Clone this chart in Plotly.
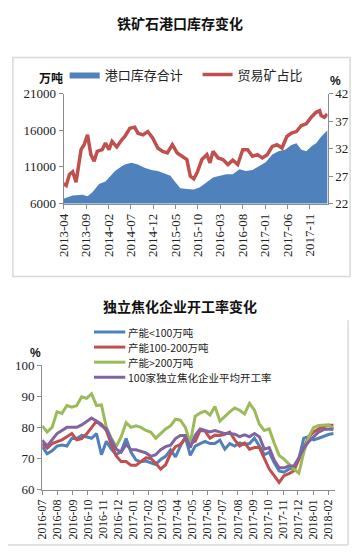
import plotly.graph_objects as go
import pandas as pd

W, H = 352, 557
def px(x): return x / W
def py(y): return 1 - y / H

# ---------------- Chart 1: iron ore port stocks ----------------
stock_dates = ["2013-04-01","2013-06-01","2013-08-07","2013-09-10","2013-10-13","2013-11-28",
               "2014-01-10","2014-02-03","2014-03-16","2014-05-01","2014-05-22","2014-07-06",
               "2014-08-19","2014-10-03","2014-11-18","2015-01-01","2015-02-15","2015-03-28",
               "2015-05-01","2015-06-03","2015-07-18","2015-09-03","2015-10-15","2015-12-01",
               "2016-01-12","2016-02-28","2016-04-12","2016-05-25","2016-07-09","2016-08-22",
               "2016-10-06","2016-11-19","2017-01-04","2017-02-18","2017-04-01","2017-05-16",
               "2017-06-28","2017-08-01","2017-09-04","2017-10-07","2017-11-10","2017-12-13",
               "2018-01-16","2018-03-01"]
stock_vals = [6670,7100,7200,7000,7550,8670,9000,9560,10450,11100,11340,11560,11340,10900,
              10580,10450,10140,9780,8890,8100,8000,7910,8230,8890,9560,9780,10000,10000,
              10670,10450,10580,11100,11650,12680,13120,13340,14000,14230,13340,13120,13790,
              14230,15120,16000]

trade_dates = ["2013-04-01","2013-04-18","2013-05-10","2013-06-01","2013-06-24","2013-07-28",
               "2013-08-18","2013-09-10","2013-10-03","2013-10-25","2013-11-15","2013-12-19",
               "2014-01-10","2014-02-03","2014-02-24","2014-03-28","2014-05-01","2014-05-22",
               "2014-06-25","2014-07-28","2014-08-19","2014-09-22","2014-10-25","2014-11-28",
               "2015-01-01","2015-02-03","2015-03-07","2015-04-10","2015-05-13","2015-06-16",
               "2015-07-18","2015-08-10","2015-09-03","2015-09-25","2015-10-28","2015-12-01",
               "2015-12-22","2016-01-12","2016-02-15","2016-03-19","2016-04-22","2016-05-25",
               "2016-06-28","2016-08-01","2016-09-03","2016-10-06","2016-11-09","2016-12-12",
               "2017-01-15","2017-02-18","2017-03-22","2017-04-25","2017-05-28","2017-06-28",
               "2017-08-01","2017-09-04","2017-10-07","2017-11-10","2017-12-13","2018-01-06",
               "2018-01-16","2018-02-07","2018-02-28"]
trade_vals = [25.6,25.3,27.3,27.8,25.9,31.8,32.7,34.5,30.9,29.7,31.5,31.8,33.0,31.8,33.3,32.3,
              33.6,34.2,35.7,35.9,34.8,34.5,35.1,33.9,32.1,31.5,31.2,32.7,31.2,30.6,30.0,27.0,
              26.5,27.6,30.0,30.9,29.4,31.5,30.3,30.0,29.1,29.9,29.1,31.8,31.8,30.6,30.9,30.3,
              30.9,32.4,32.7,32.1,34.2,34.8,35.1,36.2,36.5,37.7,38.6,38.9,38.0,37.7,38.3]

stock_ticks = [6000, 11000, 16000, 21000]
share_ticks = [22, 27, 32, 37, 42]

# ---------------- Chart 2: coking plant utilisation ----------------
coke_dates = pd.date_range("2016-07-01", periods=60, freq="10D")
small_cap = [73.8,71.5,72.5,74,74.3,74,76.5,76.4,77.4,76.9,76.5,78,71.2,75.5,73,71.2,72.3,76.4,72,
             69.5,69,69.2,68.7,68.1,69.7,70.7,72.8,70.5,74,76.9,71,74,74.8,75.5,74.8,74.8,75.9,
             73,74.8,74,75,74.5,74.8,76.5,74,71.2,72,68.7,66,65.6,66.6,67.1,70,76.5,77,76,76.5,
             77.2,77.7,78]
mid_cap = [74.8,73.3,74.8,75.5,76,77,78,76,76.4,77.9,80,82,81,79,74.5,70.8,69,69,67.8,67.8,69,
           70.2,70,68.5,66.6,68,71.5,73.8,74.5,76.5,75,75.5,79,78.8,76.5,77.5,77.4,77.8,78.5,76,
           74,75,73,73.5,73.5,70,66.6,64.5,62.3,64.5,65.1,66.1,69.7,73.5,77,78.5,79.5,80.2,80.7,
           80.7]
large_cap = [80.5,78.5,80,85,84.5,87,86.5,87,89.8,89.3,90.8,87,87.2,80,76.5,73.8,77,81.5,80,80.5,
             80,79,78.5,76.5,78,79.5,80.5,82.6,82.3,80,75,83.6,84.6,85.2,84,86.7,82,83.6,85,86.2,
             85.5,84.3,87.7,85.5,81,79,79.5,75,71,69.8,68.1,66.6,65.3,72,77,80,80.6,80.6,80.8,79.5]
avg_all = [75.9,74,76,78,79,80,80,80,80.8,81.8,83,82,80.5,79.6,76,73,72,74.5,72.8,72.8,72.3,71.8,
           70.7,71.2,72.8,73.8,74.3,76.4,77.4,77.4,73.5,77.5,79.5,79,78.5,79,78.5,78,78,77.8,77,
           77.6,77,78,77,73,73.5,69.5,67,67,67.6,67.6,70.2,73.3,75.4,77,78.5,79.3,79.5,79.3]

coke_names = ["产能<100万吨", "产能100-200万吨", "产能>200万吨", "100家独立焦化企业平均开工率"]
coke_colors = ["#4F81BD", "#C0504D", "#9BBB59", "#8064A2"]
coke_series = [small_cap, mid_cap, large_cap, avg_all]

SERIF = "Liberation Serif"
CJK = "Noto Sans CJK SC"
TXT = "#222222"
AX = "#8c8c8c"

fig = go.Figure()
fig.add_trace(go.Scatter(x=stock_dates, y=stock_vals, mode="lines", fill="tozeroy",
                         line=dict(width=0, color="#4F81BD"), fillcolor="#4F81BD",
                         name="港口库存合计", legend="legend", xaxis="x", yaxis="y"))
fig.add_trace(go.Scatter(x=trade_dates, y=trade_vals, mode="lines",
                         line=dict(width=3.5, color="#C0504D"),
                         name="贸易矿占比", legend="legend2", xaxis="x", yaxis="y2"))
for name, col, vals in zip(coke_names, coke_colors, coke_series):
    fig.add_trace(go.Scatter(x=coke_dates, y=vals, mode="lines",
                             line=dict(width=3, color=col), name=name,
                             showlegend=False, xaxis="x2", yaxis="y3"))

def axis(size=13, **kw):
    d = dict(showgrid=False, zeroline=False, showline=True, linecolor=AX, linewidth=1,
             ticks="outside", ticklen=4, tickcolor=AX,
             tickfont=dict(family=SERIF, size=size, color=TXT))
    d.update(kw)
    return d

annotations = [
    dict(text="<b>铁矿石港口库存变化</b>", x=px(176), y=py(16), xref="paper", yref="paper",
         xanchor="center", yanchor="middle",
         showarrow=False, font=dict(family=CJK, size=14, color="#111")),
    dict(text="<b>万吨</b>", x=px(58), y=py(72), xref="paper", yref="paper",
         xanchor="right", yanchor="middle", showarrow=False,
         font=dict(family=CJK, size=12, color="#111")),
    dict(text="<b>%</b>", x=px(335), y=py(76), xref="paper", yref="paper",
         xanchor="center", yanchor="middle",
         showarrow=False, font=dict(family="Liberation Sans", size=12, color="#111")),
    dict(text="<b>独立焦化企业开工率变化</b>", x=px(176), y=py(307), xref="paper",
         yref="paper", xanchor="center", yanchor="middle",
         showarrow=False, font=dict(family=CJK, size=14, color="#111")),
    dict(text="<b>%</b>", x=px(28), y=py(356), xref="paper", yref="paper",
         xanchor="center", yanchor="middle",
         showarrow=False, font=dict(family="Liberation Sans", size=12, color="#111")),
]
shapes = [
    dict(type="rect", xref="paper", yref="paper", x0=px(5), x1=px(350),
         y0=py(277), y1=py(52), line=dict(color="#d9d9d9", width=1.5)),
    dict(type="line", xref="paper", yref="paper", x0=0, x1=px(348),
         y0=py(553), y1=py(553), line=dict(color="#d9d9d9", width=1.5)),
    dict(type="line", xref="paper", yref="paper", x0=px(348), x1=px(348),
         y0=py(553), y1=py(322), line=dict(color="#d9d9d9", width=1.5)),
]
# compact vertical legend of the second chart
for i, (name, col) in enumerate(zip(coke_names, coke_colors)):
    yy = 334 + 15.5 * i
    shapes.append(dict(type="line", xref="paper", yref="paper", x0=px(88), x1=px(120),
                       y0=py(yy), y1=py(yy), line=dict(color=col, width=3)))
    annotations.append(dict(text=name, x=px(122), y=py(yy), xref="paper", yref="paper",
                            xanchor="left", yanchor="middle", showarrow=False, borderpad=0,
                            font=dict(family=CJK, size=10.5, color=TXT)))

fig.update_layout(
    width=W, height=H, margin=dict(l=0, r=0, t=0, b=0),
    paper_bgcolor="white", plot_bgcolor="white",
    xaxis=axis(13, domain=[px(57), px(327)], anchor="y", type="date",
               range=["2013-04-01", "2018-03-01"], tick0="2013-04-01", dtick="M5",
               tickformat="%Y-%m", tickangle=-90),
    yaxis=axis(13, domain=[py(202), py(89)], anchor="x", range=[6000, 21000],
               tickmode="array", tickvals=stock_ticks, ticktext=[str(v) for v in stock_ticks]),
    yaxis2=axis(13, overlaying="y", side="right", anchor="x", range=[22, 42],
                tickmode="array", tickvals=share_ticks, ticktext=[str(v) for v in share_ticks]),
    xaxis2=axis(12, domain=[px(35), px(335)], anchor="y3", type="date",
                range=["2016-07-01", "2018-02-15"], tick0="2016-07-01", dtick="M1",
                tickformat="%Y-%m", tickangle=-90),
    yaxis3=axis(13, domain=[py(496), py(368)], anchor="x2", range=[60, 100], dtick=10),
    legend=dict(x=px(58), y=py(54), xanchor="left", yanchor="top", orientation="h",
                bgcolor="rgba(0,0,0,0)", font=dict(family=CJK, size=13, color=TXT),
                itemwidth=30),
    legend2=dict(x=px(194), y=py(54), xanchor="left", yanchor="top", orientation="h",
                 bgcolor="rgba(0,0,0,0)", font=dict(family=CJK, size=13, color=TXT),
                 itemwidth=30),
    annotations=annotations,
    shapes=shapes,
    showlegend=True,
)

fig.write_html("out.html")
